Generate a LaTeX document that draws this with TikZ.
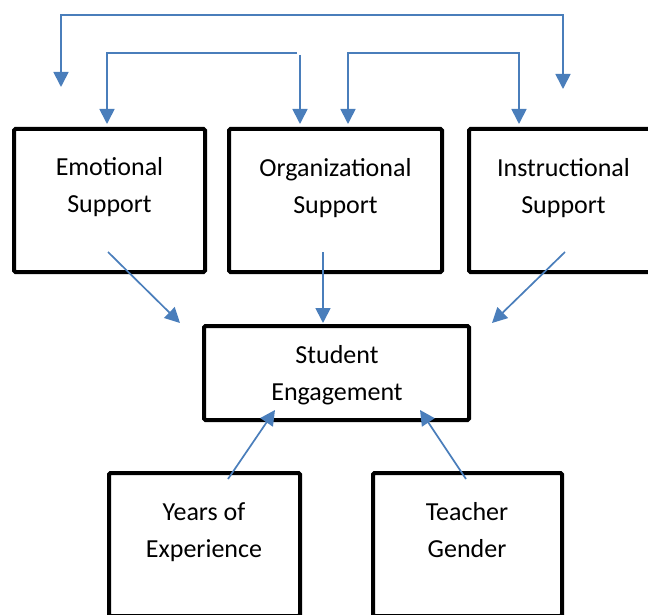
\documentclass[tikz,border=0pt]{standalone}
\usepackage{fontspec}
\setmainfont{Carlito}
\usetikzlibrary{arrows.meta}
\definecolor{lnblue}{RGB}{74,126,187}
\begin{document}
\begin{tikzpicture}[x=1pt,y=-1pt,
  box/.style={draw, line width=4pt, rounded corners=1.5pt, inner sep=0pt},
  lbl/.style={font=\fontsize{26}{37}\selectfont, align=center, anchor=base, inner sep=0pt},
  conn/.style={draw=lnblue, line width=1.7pt, -{Triangle[width=15pt,length=15pt]}},
  conn2/.style={draw=lnblue, line width=1.7pt, {Triangle[width=15pt,length=15pt]}-{Triangle[width=15pt,length=15pt]}}]
\useasboundingbox (0,0) rectangle (648,615);
% boxes
\node[box, minimum width=191pt, minimum height=143pt] (emo) at (109.5,200.5) {};
\node[box, minimum width=213pt, minimum height=143pt] (org) at (335.5,200.5) {};
\node[box, minimum width=191pt, minimum height=143pt] (ins) at (564.5,200.5) {};
\node[box, minimum width=265pt, minimum height=94pt] (stu) at (336.5,373) {};
\node[box, minimum width=191pt, minimum height=143pt] (yrs) at (204.5,544.5) {};
\node[box, minimum width=189pt, minimum height=143pt] (tch) at (467.5,544.5) {};
% labels (base anchor = baseline of last line)
\node[lbl] (emoT) at (109.5,212) {Emotional\\Support};
\node[lbl] (orgT) at (335.5,213) {Organizational\\Support};
\node[lbl] (insT) at (563.5,213) {Instructional\\Support};
\node[lbl] (stuT) at (337,400) {Student\\Engagement};
\node[lbl] (yrsT) at (204,557) {Years of\\Experience};
\node[lbl] (tchT) at (467,557) {Teacher\\Gender};
% top connectors
\coordinate (oL) at (61,87);
\coordinate (oLc) at (61,15);
\coordinate (oRc) at (563,15);
\coordinate (oR) at (563,89);
\draw[conn2] (oL) -- (oLc) -- (oRc) -- (oR);
\coordinate (iLe) at (297,53);
\coordinate (iLc) at (107,53);
\coordinate (iLt) at (107,124);
\draw[conn] (iLe) -- (iLc) -- (iLt);
\coordinate (iMs) at (300,55);
\coordinate (iMt) at (300,124);
\draw[conn] (iMs) -- (iMt);
\coordinate (iRa) at (348,124);
\coordinate (iRb) at (348,53);
\coordinate (iRc) at (519,53);
\coordinate (iRd) at (519,124);
\draw[conn2] (iRa) -- (iRb) -- (iRc) -- (iRd);
% connectors to student engagement
\coordinate (eS) at (108,252);
\coordinate (eT) at (180,323);
\draw[conn] (eS) -- (eT);
\coordinate (gS) at (323,252);
\coordinate (gT) at (323,323);
\draw[conn] (gS) -- (gT);
\coordinate (nS) at (565,252);
\coordinate (nT) at (492,323);
\draw[conn] (nS) -- (nT);
\coordinate (yS) at (228,479);
\coordinate (yT) at (275,410);
\draw[conn] (yS) -- (yT);
\coordinate (tS) at (466,479);
\coordinate (tT) at (420,410);
\draw[conn] (tS) -- (tT);
\end{tikzpicture}
\end{document}
